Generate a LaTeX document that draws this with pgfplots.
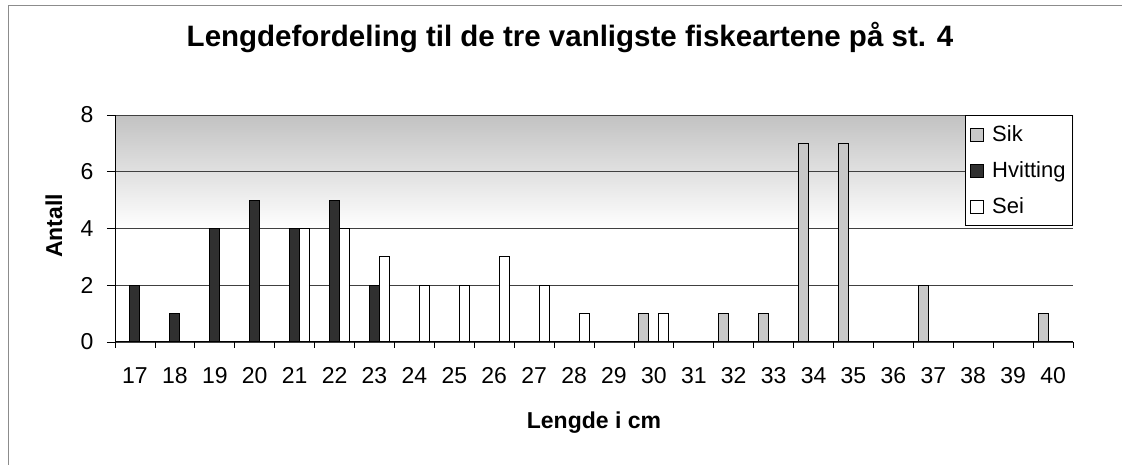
\documentclass[border=0pt]{standalone}
\usepackage{pgfplots}
\pgfplotsset{compat=1.18}
\usepackage{fontspec}
\setmainfont{Liberation Sans}
\definecolor{sikgray}{HTML}{C8C8C8}
\definecolor{hvdark}{HTML}{303030}
\begin{document}
\begin{tikzpicture}[x=1pt,y=1pt]
\begin{axis}[
  at={(115pt,123pt)}, anchor=south west,
  scale only axis, width=958pt, height=227pt,
  xmin=16.5, xmax=40.5, ymin=0, ymax=8,
  ybar, bar width=0.25,
  axis x line*=bottom, axis y line*=left,
  axis line style={-, black, line width=1pt},
  xtick={17,...,40}, ytick={0,2,...,8},
  minor xtick={16.5,17.5,...,40.5},
  tick align=outside,
  major tick length=8pt, minor tick length=6pt,
  every tick/.style={black, line width=0.8pt},
  major x tick style={draw=none},
  ymajorgrids, grid style={black!75, line width=0.9pt},
  axis background/.style={shade, top color=black!24, bottom color=white, middle color=white},
  /pgf/number format/assume math mode=true,
  ticklabel style={font=\fontsize{23}{26}\selectfont},
  xticklabel style={yshift=-14pt},
  yticklabel style={xshift=-10pt},
  title={Lengdefordeling til de tre vanligste fiskeartene på st. 4},
  title style={at={(rel axis cs:0.475,1.2775)}, anchor=base, font=\bfseries\fontsize{29.5}{32}\selectfont},
  xlabel={Lengde i cm},
  xlabel style={at={(rel axis cs:0.5,-0.383)}, anchor=base, font=\bfseries\fontsize{23}{26}\selectfont},
  ylabel={Antall},
  ylabel style={at={(rel axis cs:-0.0553,0.511)}, anchor=base, rotate=0, font=\bfseries\fontsize{23}{26}\selectfont},
  legend style={at={(rel axis cs:1,1)}, anchor=north east, draw=black, line width=0.8pt, fill=white,
    font=\fontsize{22}{24}\selectfont, row sep=14.5pt, inner xsep=5pt, inner ysep=8.5pt,
    /tikz/every odd column/.append style={column sep=6pt}},
  legend cell align=left,
  legend image code/.code={\draw[#1, draw=black, line width=0.8pt] (0pt,-6.5pt) rectangle (13pt,6.5pt);},
]
\addplot[fill=sikgray, draw=black, line width=1pt, bar shift=-0.25] coordinates {
  (30,1) (32,1) (33,1) (34,7) (35,7) (37,2) (40,1)};
\addplot[fill=hvdark, draw=black, line width=1pt, bar shift=0] coordinates {
  (17,2) (18,1) (19,4) (20,5) (21,4) (22,5) (23,2)};
\addplot[fill=white, draw=black, line width=1pt, bar shift=0.25] coordinates {
  (21,4) (22,4) (23,3) (24,2) (25,2) (26,3) (27,2) (28,1) (30,1)};
\legend{Sik, Hvitting, Sei}
\end{axis}
\draw[black!45, line width=1pt] (8,0) -- (8,459) -- (1122,459);
\pgfresetboundingbox
\useasboundingbox (0,0) rectangle (1122,465);
\end{tikzpicture}
\end{document}
